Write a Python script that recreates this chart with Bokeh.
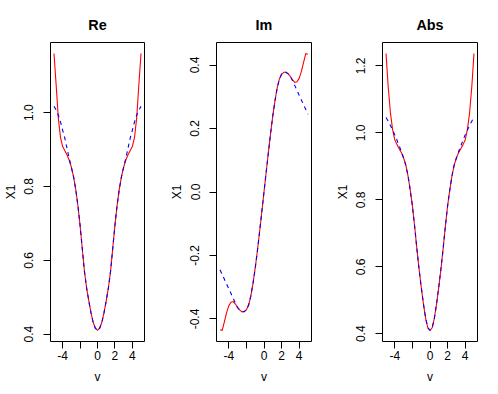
from bokeh.plotting import figure
from bokeh.layouts import row
from bokeh.models import Range1d, FixedTicker
from bokeh.embed import file_html
from bokeh.resources import INLINE

# ---- data ----
v = [-5.0, -4.75, -4.5, -4.25, -4.0, -3.75, -3.5, -3.25, -3.0, -2.75, -2.5,
     -2.25, -2.0, -1.75, -1.5, -1.25, -1.0, -0.75, -0.5, -0.25, 0.0,
     0.25, 0.5, 0.75, 1.0, 1.25, 1.5, 1.75, 2.0, 2.25, 2.5,
     2.75, 3.0, 3.25, 3.5, 3.75, 4.0, 4.25, 4.5, 4.75, 5.0]

re_red = [1.16, 1.075, 0.985, 0.932, 0.908, 0.897, 0.886, 0.871, 0.852, 0.826, 0.792,
          0.748, 0.694, 0.632, 0.57, 0.525, 0.49, 0.458, 0.432, 0.416, 0.41,
          0.416, 0.432, 0.458, 0.49, 0.525, 0.57, 0.632, 0.694, 0.748, 0.792,
          0.826, 0.852, 0.871, 0.886, 0.897, 0.908, 0.932, 0.985, 1.075, 1.16]
re_blue = [1.017, 1.007, 0.993, 0.975, 0.952, 0.93, 0.903, 0.876, 0.852, 0.826, 0.792,
           0.748, 0.694, 0.632, 0.57, 0.525, 0.49, 0.458, 0.432, 0.416, 0.41,
           0.416, 0.432, 0.458, 0.49, 0.525, 0.57, 0.632, 0.694, 0.748, 0.792,
           0.826, 0.852, 0.876, 0.903, 0.93, 0.952, 0.975, 0.993, 1.007, 1.017]

im_red = [-0.434, -0.436, -0.408, -0.38, -0.358, -0.347, -0.345, -0.353, -0.364, -0.372, -0.377,
          -0.377, -0.371, -0.356, -0.328, -0.288, -0.24, -0.185, -0.125, -0.063, 0.0,
          0.063, 0.125, 0.185, 0.24, 0.288, 0.328, 0.356, 0.371, 0.377, 0.377,
          0.372, 0.364, 0.353, 0.345, 0.347, 0.358, 0.38, 0.408, 0.436, 0.434]
im_blue = [-0.245, -0.26, -0.275, -0.29, -0.305, -0.32, -0.335, -0.35, -0.364, -0.372, -0.377,
           -0.377, -0.371, -0.356, -0.328, -0.288, -0.24, -0.185, -0.125, -0.063, 0.0,
           0.063, 0.125, 0.185, 0.24, 0.288, 0.328, 0.356, 0.371, 0.377, 0.377,
           0.372, 0.364, 0.35, 0.335, 0.32, 0.305, 0.29, 0.275, 0.26, 0.245]

abs_red = [1.237, 1.137, 1.06, 1.01, 0.979, 0.965, 0.953, 0.941, 0.925, 0.904, 0.872,
           0.83, 0.782, 0.722, 0.656, 0.595, 0.54, 0.49, 0.447, 0.418, 0.41,
           0.418, 0.447, 0.49, 0.54, 0.595, 0.656, 0.722, 0.782, 0.83, 0.872,
           0.904, 0.925, 0.941, 0.953, 0.965, 0.979, 1.01, 1.06, 1.137, 1.237]
abs_blue = [1.046, 1.035, 1.022, 1.009, 0.994, 0.978, 0.961, 0.944, 0.925, 0.904, 0.872,
            0.83, 0.782, 0.722, 0.656, 0.595, 0.54, 0.49, 0.447, 0.418, 0.41,
            0.418, 0.447, 0.49, 0.54, 0.595, 0.656, 0.722, 0.782, 0.83, 0.872,
            0.904, 0.925, 0.944, 0.961, 0.978, 0.994, 1.009, 1.022, 1.035, 1.046]

titles = ["Re", "Im", "Abs"]
x_ticks = [-4, -2, 0, 2, 4]
x_tick_labels = ["-4", "", "0", "2", "4"]
re_ticks = [0.4, 0.6, 0.8, 1.0]
re_tick_labels = ["0.4", "0.6", "0.8", "1.0"]
im_ticks = [-0.4, -0.2, 0.0, 0.2, 0.4]
im_tick_labels = ["-0.4", "-0.2", "0.0", "0.2", "0.4"]
abs_ticks = [0.4, 0.6, 0.8, 1.0, 1.2]
abs_tick_labels = ["0.4", "0.6", "0.8", "1.0", "1.2"]
x_label = "v"
y_label = "X1"

FONT = "Liberation Sans"
H = 394


def panel(title, red, blue, yt, ytl, width, bl, br):
    allv = red + blue
    lo, hi = min(allv), max(allv)
    pad = 0.04 * (hi - lo)
    xpad = 0.04 * (max(v) - min(v))
    p = figure(width=width, height=H, output_backend="svg", toolbar_location=None,
               x_range=Range1d(min(v) - xpad, max(v) + xpad),
               y_range=Range1d(lo - pad, hi + pad),
               min_border_left=bl, min_border_right=br,
               min_border_top=42, min_border_bottom=53,
               title=title)
    p.title.align = "center"
    p.title.text_font = FONT
    p.title.text_font_size = "14.4px"
    p.title.text_font_style = "bold"
    p.title.text_color = "black"
    p.title.standoff = 19
    p.grid.visible = False
    p.outline_line_color = "black"
    p.outline_line_alpha = 1.0
    p.outline_line_width = 1
    p.background_fill_color = "white"
    p.border_fill_color = "white"

    p.line(v, red, line_color="#FF0000", line_width=1.1)
    p.line(v, blue, line_color="#0000FF", line_width=1.1, line_dash="4 4")

    xa = p.xaxis[0]
    xa.ticker = FixedTicker(ticks=x_ticks)
    xa.major_label_overrides = {t: l for t, l in zip(x_ticks, x_tick_labels)}
    ya = p.yaxis[0]
    ya.ticker = FixedTicker(ticks=yt)
    ya.major_label_overrides = {t: l for t, l in zip(yt, ytl)}
    ya.major_label_orientation = "vertical"
    xa.axis_label = x_label
    ya.axis_label = y_label
    for ax in (xa, ya):
        ax.axis_line_color = None
        ax.major_tick_in = 0
        ax.major_tick_out = 7
        ax.major_tick_line_color = "black"
        ax.minor_tick_line_color = None
        ax.major_label_text_font = FONT
        ax.major_label_text_font_size = "12px"
        ax.major_label_text_color = "black"
        ax.axis_label_text_font = FONT
        ax.axis_label_text_font_size = "12px"
        ax.axis_label_text_font_style = "normal"
        ax.axis_label_text_color = "black"
    xa.major_label_standoff = 2
    ya.major_label_standoff = 10
    xa.axis_label_standoff = 7
    ya.axis_label_standoff = 4
    return p


p1 = panel(titles[0], re_red, re_blue, re_ticks, re_tick_labels, 166, 42, 22)
p2 = panel(titles[1], im_red, im_blue, im_ticks, im_tick_labels, 166, 42, 21)
p3 = panel(titles[2], abs_red, abs_blue, abs_ticks, abs_tick_labels, 166, 42, 21)

layout = row(p1, p2, p3)
open("out.html", "w").write(file_html(layout, INLINE))
